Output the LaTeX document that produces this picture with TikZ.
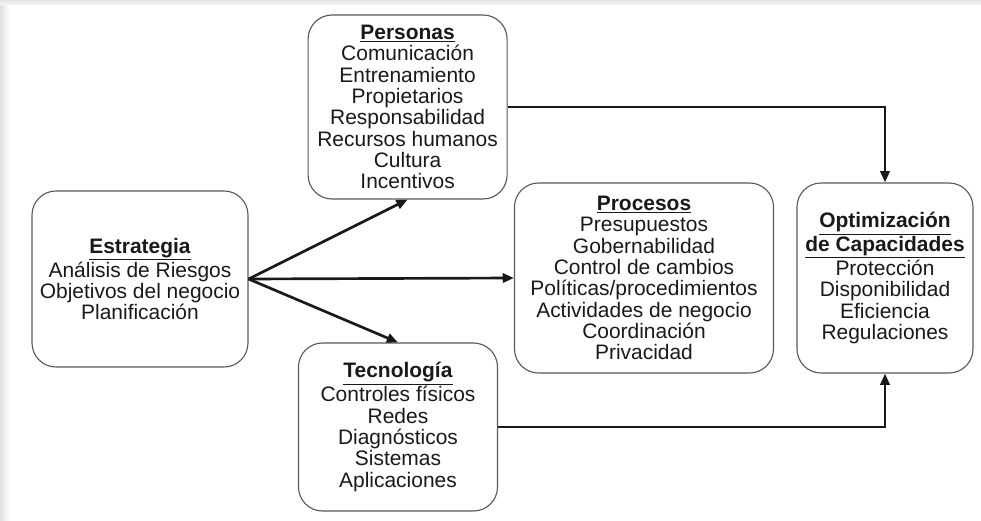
\documentclass[tikz,border=0pt]{standalone}
\usepackage{fontspec}
\setmainfont{Liberation Sans}
\usepackage{tikz}
\usetikzlibrary{calc}
\usetikzlibrary{positioning}
\usetikzlibrary{arrows.meta}

\tikzset{
  caja/.style={draw=black!65, line width=0.8pt, rounded corners=0.6cm, align=center,
    inner sep=0pt, text=black!90, font=\fontsize{14.9}{15.2}\selectfont},
  flecha/.style={-{Triangle[length=2.8mm,width=2.3mm]}, line width=1.9pt, black!90}
}
\newcommand{\titulo}[1]{\underline{\textbf{#1}}}

\begin{document}
\begin{tikzpicture}
        \useasboundingbox (0,0) rectangle (24.525,-13.025);
        \fill[white] (0,0) rectangle (24.525,-13.025);
        \shade[left color=black!12, right color=white] (0,0) rectangle (0.25,-13.025);
        \shade[top color=black!10, bottom color=black!4] (0,0) rectangle (24.525,-0.12);

        % cajas
        \node[caja, minimum width=5.4cm, minimum height=4.4cm] (est) at (3.5,-6.975)
          {\titulo{Estrategia}\\ Análisis de Riesgos\\ Objetivos del negocio\\ Planificación};
        \node[caja, minimum width=4.975cm, minimum height=4.6cm] (per) at (10.19,-2.675)
          {\titulo{Personas}\\ Comunicación\\ Entrenamiento\\ Propietarios\\ Responsabilidad\\
           Recursos humanos\\ Cultura\\ Incentivos};
        \node[caja, minimum width=6.475cm, minimum height=4.75cm] (pro) at (16.1,-6.95)
          {\titulo{Procesos}\\ Presupuestos\\ Gobernabilidad\\ Control de cambios\\
           Políticas/procedimientos\\ Actividades de negocio\\ Coordinación\\ Privacidad};
        \node[caja, minimum width=4.975cm, minimum height=4.2cm] (tec) at (9.95,-10.675)
          {\titulo{Tecnología}\\ Controles físicos\\ Redes\\ Diagnósticos\\ Sistemas\\ Aplicaciones};
        \node[caja, minimum width=4.4cm, minimum height=4.75cm] (opt) at (22.125,-6.95)
          {\titulo{Optimización}\\ \titulo{de Capacidades}\\ Protección\\ Disponibilidad\\
           Eficiencia\\ Regulaciones};

        % flechas
        \draw[flecha] (est.east) -- (per.south);
        \draw[flecha] (est.east) -- (pro.west);
        \draw[flecha] (est.east) -- (tec.north);
        \draw[flecha] (per.east) -| (opt.north);
        \draw[flecha] (tec.east) -| (opt.south);
      \end{tikzpicture}
\end{document}
